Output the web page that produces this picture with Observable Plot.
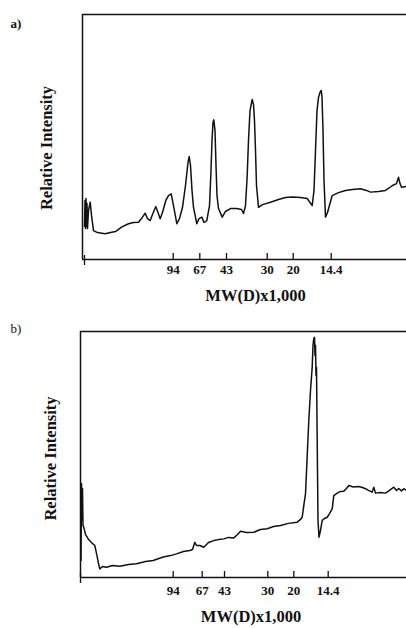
<!DOCTYPE html>
<html><head><meta charset="utf-8">
<script src="https://cdn.jsdelivr.net/npm/d3@7"></script>
<script src="https://cdn.jsdelivr.net/npm/@observablehq/plot@0.6"></script>
<style>
body{margin:0;background:#fff}
#chart{width:406px;height:628px;position:relative;overflow:hidden;background:#fff}
#chart svg{display:block}
</style>
</head><body><div id="chart"></div>
<script>
// Molecular weight markers (kD) and their migration positions
const markerLabels = ["94", "67", "43", "30", "20", "14.4"];
const markerPosA = [90.7, 117.3, 144, 184.7, 210.7, 248.7];
const markerPosB = [92.7, 121.7, 144, 187.3, 213.3, 247.7];
const wellA = 2;
const wellB = 0;
const yLabel = "Relative Intensity";
const xLabel = "MW(D)x1,000";

// Panel a) densitometer trace
const traceAx = [2,2.5,3,3.5,4,4.5,5,6,7.7,9,11,15,22.7,28,33,39,46,51,56,59,62.7,65,67.7,70,73.3,75.5,77.7,80,83.3,86,88.7,91,94.3,97,100,103,105.5,106.7,108,109.5,111,114.3,116.5,119.3,121.5,124.3,127,128.5,129.5,130.5,131.3,132.5,133.5,134.5,136,139.7,143,148,154,159,161,163,164.7,166,167.5,169.7,171,172,173,174,176,180,188,196,203,210,218,224.7,229.7,231.5,233,234.5,236,237.5,238.7,239.5,240.5,241.5,243,245,249.7,256,263,270,278,284,288,296,303,310,314,316,317.5,319,324];
const traceAy = [13.5,24.1,12.7,24.9,13.5,22.9,12.7,20,23.4,18,11.8,11,10.5,11,11.4,13.2,14.6,15.1,15.2,16.7,18.9,16.7,15.9,18.4,21.6,19.2,16.6,19.2,24.1,26.1,26.8,22,14.6,16.7,21.3,30.2,39.6,42,38.4,28.2,21.3,14.6,16.7,17.3,15.1,15.9,22,36.3,48.6,55.9,57,52.7,38.4,26.1,20.8,17.3,19.6,20.8,20.8,20.4,18.8,22,34.3,48.6,60.8,65.3,63.3,56.7,44.5,30.2,21.3,22.4,23.4,24.5,25.3,25.5,25.3,24.9,22,28.2,44.5,60.8,66.1,68.2,69,66.5,52.7,32.2,17.3,19.2,26.1,27.3,28.2,28.6,28.9,28.2,27.5,27.8,28.2,30.2,31,33.6,31,29.5,29.8];

// Panel b) densitometer trace
const traceBx = [0.5,1,1.5,2,2.5,3.3,5,7.7,11,14.3,16,18,19.3,22,26,32,39.3,48,56,65,72.7,82.7,90,96,103,109.3,112,114.3,116,119.3,123.3,128,133.3,138,143.3,148,153.3,157,160,166,173.3,180,186.7,193,200,208,216.7,220,221.7,223.3,225,226.5,228.3,230,231.7,232.5,233.3,234,234.5,235,235.5,236,236.5,237,237.5,238.5,240,241.7,244,246.7,249,251.7,253.3,256.7,260,263.3,266,268.3,273,278.3,282,285,288,291.7,293.3,295,300,305,309,313.3,316,318.3,321,323.3,326];
const traceBy = [6.9,38.2,23.2,36.2,21.1,20.4,17.5,15.7,14.2,13,9.8,5.7,3.5,4.5,4.2,4.9,4.6,5.3,5.6,6.5,6.9,8.3,8.9,9.6,10.6,11,11.4,14.3,13,13,12.3,14.2,15,15.4,15.7,16.3,16.1,17.5,18.8,18.3,18.4,19.5,19.8,20.7,21.1,22,22.5,23.6,24.5,29.3,34,47.6,63.8,76,85.5,94.3,97.2,97.6,90.2,94.3,82.1,85.5,63.8,43.5,23.2,16.4,19.1,23.2,24,24.5,26,27.9,33.3,34.3,35,35.1,36.2,37.4,36.8,37,36.6,36.1,35.4,34.7,36.7,34.3,34.6,34.3,35.4,36.7,35.4,36.2,35.2,36.1,35.4];

const yDomain = [0, 100];
const serif = "'Liberation Serif', 'DejaVu Serif', serif";
const ink = "#111";

function panel(cfg) {
  const data = cfg.xs.map((x, i) => ({x, y: cfg.ys[i]}));
  const markers = cfg.pos.map((p, i) => ({p, label: markerLabels[i]}));
  const frameH = cfg.height - cfg.mt - cfg.mb;
  return Plot.plot({
    width: 406, height: cfg.height,
    marginTop: cfg.mt, marginBottom: cfg.mb, marginLeft: cfg.ml, marginRight: 0,
    x: {domain: cfg.xDomain, axis: null},
    y: {domain: yDomain, axis: null},
    style: {background: "white", fontFamily: serif, color: ink},
    marks: [
      Plot.ruleY([yDomain[1]], {stroke: ink, strokeWidth: 1.5}),
      Plot.ruleX([cfg.xDomain[0]], {stroke: ink, strokeWidth: 1.5}),
      Plot.ruleY([yDomain[0]], {stroke: ink, strokeWidth: 1.5}),
      Plot.tickX(markers, {x: "p", stroke: ink, strokeWidth: 1.3, insetTop: frameH - 6}),
      Plot.tickX([cfg.well], {stroke: ink, strokeWidth: 1.3, insetTop: frameH - 10, dy: 6}),
      Plot.line(data, {x: "x", y: "y", stroke: ink, strokeWidth: 1.5, curve: "linear"}),
      Plot.text(markers, {x: "p", text: "label", frameAnchor: "bottom", dy: cfg.tickDy, fontSize: 13, fontWeight: "bold", fill: ink}),
      Plot.text([xLabel], {frameAnchor: "bottom", dx: cfg.xlDx, dy: cfg.xlDy, fontSize: 16.5, fontWeight: "bold", fill: ink}),
      Plot.text([yLabel], {frameAnchor: "left", textAnchor: "middle", rotate: -90, dx: cfg.ylDx, dy: cfg.ylDy, fontSize: 16.5, fontWeight: "bold", fill: ink}),
      Plot.text([cfg.tag], {frameAnchor: "top-left", textAnchor: "start", dx: cfg.tagDx, dy: cfg.tagDy, fontSize: 13, fontWeight: cfg.tagWeight, fill: ink})
    ]
  });
}

const chart = document.getElementById("chart");
chart.appendChild(panel({
  xs: traceAx, ys: traceAy, pos: markerPosA, well: wellA, xDomain: [0, 324],
  height: 314, mt: 14, mb: 55, ml: 82,
  tickDy: 14, xlDx: 11, xlDy: 41, ylDx: -36, ylDy: 11,
  tag: "a)", tagDx: -72, tagDy: 4, tagWeight: "bold"
}));
chart.appendChild(panel({
  xs: traceBx, ys: traceBy, pos: markerPosB, well: wellB, xDomain: [0, 326],
  height: 314, mt: 17, mb: 51, ml: 80,
  tickDy: 17, xlDx: 7.5, xlDy: 44, ylDx: -30, ylDy: 4,
  tag: "b)", tagDx: -70, tagDy: -8, tagWeight: "normal"
}));
</script>
</body></html>
